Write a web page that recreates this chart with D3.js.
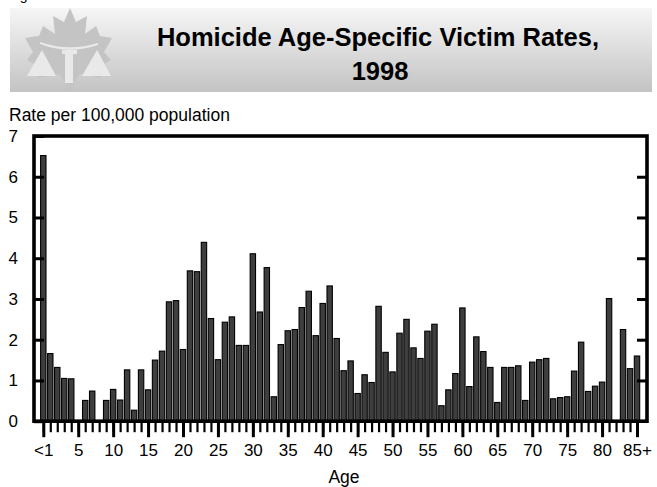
<!DOCTYPE html>
<html>
<head>
<meta charset="utf-8">
<script src="https://cdn.jsdelivr.net/npm/d3@7/dist/d3.min.js"></script>
<style>
  html, body { margin: 0; padding: 0; background: #ffffff; }
  svg { display: block; font-family: "Liberation Sans", Arial, Helvetica, sans-serif; }
</style>
</head>
<body>
<script>
// ---- data ----
const ages = ["<1","1","2","3","4","5","6","7","8","9","10","11","12","13","14","15","16","17","18","19",
  "20","21","22","23","24","25","26","27","28","29","30","31","32","33","34","35","36","37","38","39",
  "40","41","42","43","44","45","46","47","48","49","50","51","52","53","54","55","56","57","58","59",
  "60","61","62","63","64","65","66","67","68","69","70","71","72","73","74","75","76","77","78","79",
  "80","81","82","83","84","85+"];
const rates = [6.52,1.66,1.32,1.05,1.04,0,0.51,0.74,0,0.51,
  0.78,0.52,1.26,0.27,1.26,0.77,1.50,1.72,2.93,2.96,
  1.76,3.69,3.67,4.39,2.52,1.51,2.43,2.56,1.86,1.86,
  4.11,2.68,3.77,0.60,1.88,2.22,2.25,2.79,3.19,2.10,
  2.89,3.32,2.03,1.24,1.48,0.68,1.14,0.95,2.82,1.69,
  1.21,2.16,2.50,1.80,1.54,2.21,2.38,0.38,0.77,1.17,
  2.78,0.85,2.07,1.71,1.32,0.46,1.32,1.32,1.36,0.51,
  1.45,1.51,1.54,0.55,0.58,0.60,1.23,1.94,0.73,0.86,
  0.96,3.01,0,2.25,1.29,1.60];
const majorTicks = ["<1","5","10","15","20","25","30","35","40","45","50","55","60","65","70","75","80","85+"];
const yTicks = [0,1,2,3,4,5,6,7];
const titleLines = ["Homicide Age-Specific Victim Rates,", "1998"];
const yLabel = "Rate per 100,000 population";
const xLabel = "Age";

// ---- drawing ----
const W = 657, H = 487;
const svg = d3.select("body").append("svg").attr("width", W).attr("height", H);

const defs = svg.append("defs");
const grad = defs.append("linearGradient").attr("id", "hdr").attr("x1", 0).attr("y1", 0).attr("x2", 0).attr("y2", 1);
grad.append("stop").attr("offset", "0%").attr("stop-color", "#f6f6f6");
grad.append("stop").attr("offset", "100%").attr("stop-color", "#c3c3c3");

// cut-off figure caption at very top (only descender visible, as in the reference)
svg.append("text").attr("x", 8).attr("y", -0.5).attr("font-size", 14).attr("fill", "#000").text("Figure");

// header band
svg.append("rect").attr("x", 10).attr("y", 8).attr("width", 642).attr("height", 84).attr("fill", "url(#hdr)");

// logo (maple leaf with scales)
const logo = svg.append("g");
const leaf = [[70,8],[76,22],[87,16],[85,34],[96,26],[100,36],[112,38],[104,52],[111,60],[98,68],[101,78],
  [80,74],[73,83],[73,90],[66,90],[66,83],[59,74],[38,78],[41,68],[27,60],[33,52],[25,38],[39,36],[43,26],
  [55,34],[53,16],[64,22]];
logo.append("path").attr("d", d3.line()(leaf) + "Z").attr("fill", "#c4c4c4");
const light = "#e9e9e9";
logo.append("path").attr("d", d3.line()([[42,50],[56,76],[27,76]]) + "Z").attr("fill", light);
logo.append("path").attr("d", d3.line()([[97,50],[111,76],[82,76]]) + "Z").attr("fill", light);
logo.append("rect").attr("x", 65).attr("y", 50).attr("width", 8).attr("height", 33).attr("fill", light);
logo.append("rect").attr("x", 62).attr("y", 50).attr("width", 15).attr("height", 4).attr("fill", light);
logo.append("path").attr("d", "M40,42 Q69,52 98,43 L98,45 Q69,55 40,44 Z").attr("fill", light);

// title
svg.append("text").attr("x", 378).attr("y", 46).attr("text-anchor", "middle")
  .attr("font-size", 25.5).attr("font-weight", "bold").text(titleLines[0]);
svg.append("text").attr("x", 380).attr("y", 80).attr("text-anchor", "middle")
  .attr("font-size", 25.5).attr("font-weight", "bold").text(titleLines[1]);

// y label
svg.append("text").attr("x", 9).attr("y", 120.5).attr("font-size", 17.5).text(yLabel);

// scales
const x = d3.scalePoint().domain(ages).range([43.3, 637]);
const y = d3.scaleLinear().domain([0, 7]).range([421.2, 136]);
const barW = x.step() * 0.77;

// bars
svg.append("g").selectAll("rect")
  .data(ages.map((a, i) => ({ age: a, v: rates[i] })).filter(d => d.v > 0))
  .join("rect")
  .attr("x", d => x(d.age) - barW / 2)
  .attr("y", d => y(d.v))
  .attr("width", barW)
  .attr("height", d => y(0) - y(d.v))
  .attr("fill", "#3e3e3e")
  .attr("stroke", "#000")
  .attr("stroke-width", 1.1);

// y axes (ticks inward)
const yl = svg.append("g").attr("transform", "translate(34,0)")
  .call(d3.axisLeft(y).tickValues(yTicks).tickSize(-10).tickPadding(16).tickFormat(d3.format("d")));
yl.select(".domain").remove();
yl.selectAll("line").attr("stroke-width", 3);
yl.selectAll("text").attr("font-size", 17).attr("font-family", "Liberation Sans, Arial, sans-serif");

const yr = svg.append("g").attr("transform", "translate(647,0)")
  .call(d3.axisRight(y).tickValues(yTicks.filter(v => v > 0 && v < 7)).tickSize(-10).tickFormat(""));
yr.select(".domain").remove();
yr.selectAll("line").attr("stroke-width", 3);

// x axis minor ticks
const xm = svg.append("g").attr("transform", `translate(0,${y(0)})`)
  .call(d3.axisBottom(x).tickValues(ages).tickSize(11).tickFormat(""));
xm.select(".domain").remove();
xm.selectAll("line").attr("stroke-width", 2.2);

// x axis major ticks + labels
const xM = svg.append("g").attr("transform", `translate(0,${y(0)})`)
  .call(d3.axisBottom(x).tickValues(majorTicks).tickSize(16).tickPadding(7));
xM.select(".domain").remove();
xM.selectAll("line").attr("stroke-width", 3);
xM.selectAll("text").attr("font-size", 17).attr("font-family", "Liberation Sans, Arial, sans-serif");

// frame
svg.append("rect").attr("x", 34).attr("y", 136).attr("width", 613).attr("height", y(0) - 136)
  .attr("fill", "none").attr("stroke", "#000").attr("stroke-width", 3.6);

// x label
svg.append("text").attr("x", 344).attr("y", 483).attr("text-anchor", "middle").attr("font-size", 17.5).text(xLabel);
</script>
</body>
</html>
